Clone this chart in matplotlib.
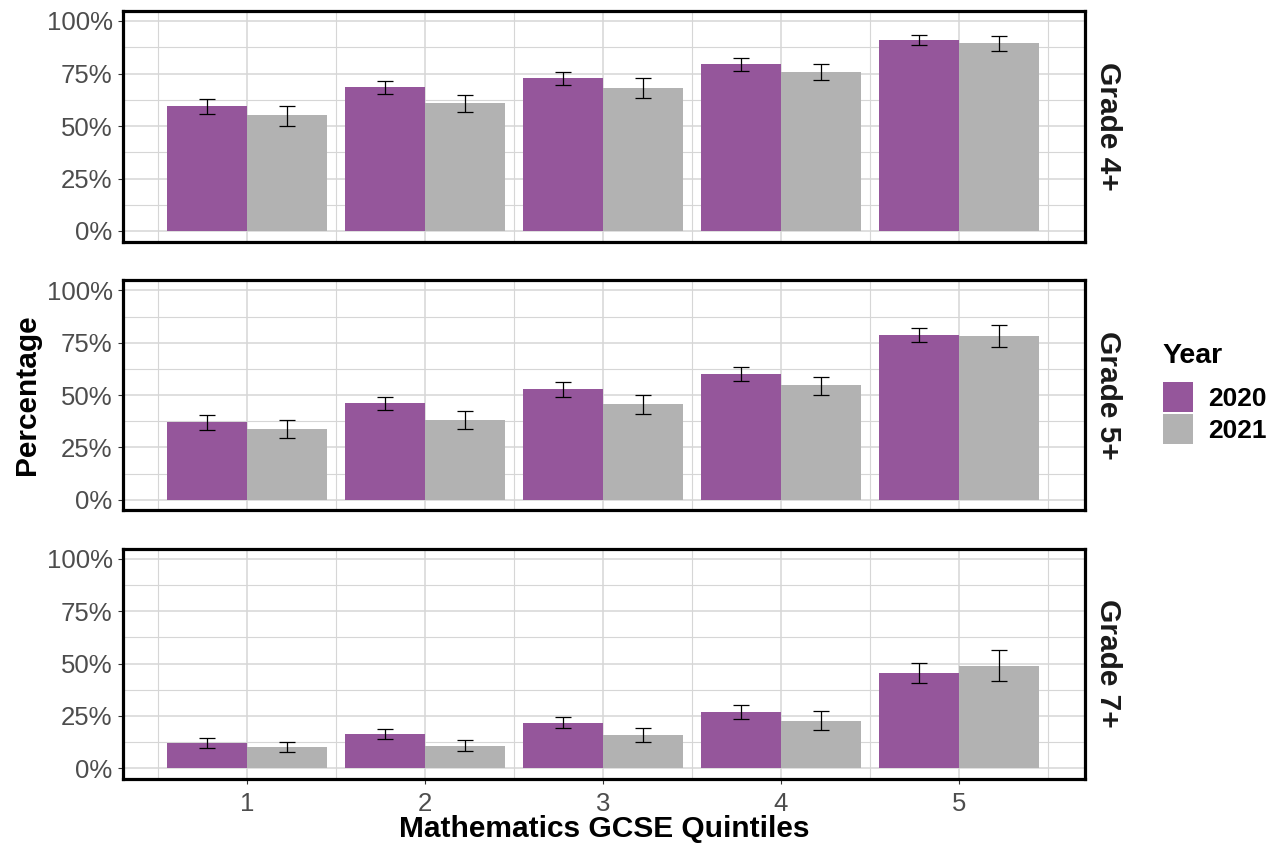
import numpy as np
import matplotlib.pyplot as plt
from matplotlib.patches import Patch

plt.rcParams['font.family'] = ['Liberation Sans', 'DejaVu Sans']

quintiles = [1, 2, 3, 4, 5]
grades = ['Grade 4+', 'Grade 5+', 'Grade 7+']
years = ['2020', '2021']
colours = {'2020': '#95569b', '2021': '#b2b2b2'}

# percentages (bar, lower CI, upper CI)
g4_2020 = [59.5, 68.6, 72.9, 79.5, 91.0]
g4_2020_lo = [55.9, 65.2, 69.5, 76.3, 88.7]
g4_2020_hi = [63.0, 71.4, 75.9, 82.2, 93.2]
g4_2021 = [55.2, 61.0, 68.1, 75.7, 89.5]
g4_2021_lo = [50.2, 56.8, 63.5, 72.0, 85.9]
g4_2021_hi = [59.7, 64.8, 72.7, 79.7, 92.7]

g5_2020 = [37.1, 46.2, 52.9, 60.1, 78.8]
g5_2020_lo = [33.5, 42.9, 48.9, 56.7, 75.3]
g5_2020_hi = [40.5, 49.2, 56.4, 63.4, 82.1]
g5_2021 = [33.8, 38.1, 45.6, 54.8, 78.3]
g5_2021_lo = [29.5, 33.8, 41.1, 50.0, 73.2]
g5_2021_hi = [37.9, 42.5, 49.9, 58.8, 83.4]

g7_2020 = [12.1, 16.4, 21.6, 26.9, 45.5]
g7_2020_lo = [9.7, 14.2, 19.1, 23.4, 40.6]
g7_2020_hi = [14.6, 18.9, 24.7, 30.1, 50.3]
g7_2021 = [10.2, 10.7, 15.9, 22.6, 48.9]
g7_2021_lo = [7.6, 8.3, 12.7, 18.4, 41.6]
g7_2021_hi = [12.7, 13.7, 19.1, 27.2, 56.4]

panels = {
    'Grade 4+': {'2020': (g4_2020, g4_2020_lo, g4_2020_hi), '2021': (g4_2021, g4_2021_lo, g4_2021_hi)},
    'Grade 5+': {'2020': (g5_2020, g5_2020_lo, g5_2020_hi), '2021': (g5_2021, g5_2021_lo, g5_2021_hi)},
    'Grade 7+': {'2020': (g7_2020, g7_2020_lo, g7_2020_hi), '2021': (g7_2021, g7_2021_lo, g7_2021_hi)},
}

W, H = 1281, 843
fig = plt.figure(figsize=(W / 100, H / 100), dpi=100)

# panel boxes in pixels: (top, bottom)
boxes = [(10.5, 241.5), (280, 510.2), (548.5, 778.8)]
left, right = 123, 1085
bar_w = 0.45
offsets = {'2020': -bar_w / 2, '2021': bar_w / 2}

x = np.array(quintiles)
for i, grade in enumerate(grades):
    top, bottom = boxes[i]
    ax = fig.add_axes([left / W, 1 - bottom / H, (right - left) / W, (bottom - top) / H])
    for yr in years:
        vals, lo, hi = [np.array(v) for v in panels[grade][yr]]
        ax.bar(x + offsets[yr], vals, width=bar_w, color=colours[yr], zorder=2)
        ax.errorbar(x + offsets[yr], vals, yerr=[vals - lo, hi - vals], fmt='none',
                    ecolor='black', elinewidth=0.9, capsize=5.8, capthick=0.9, zorder=3)

    ax.set_xlim(0.303, 5.71)
    ax.set_ylim(-5, 105)
    ax.set_yticks([0, 25, 50, 75, 100])
    ax.set_yticklabels(['0%', '25%', '50%', '75%', '100%'])
    ax.set_yticks([12.5, 37.5, 62.5, 87.5], minor=True)
    ax.set_xticks(quintiles)
    ax.set_xticks([0.5, 1.5, 2.5, 3.5, 4.5, 5.5], minor=True)
    ax.set_axisbelow(True)
    ax.grid(which='major', color='#d6d6d6', linewidth=1.1)
    ax.grid(which='minor', color='#d6d6d6', linewidth=0.8)
    ax.tick_params(which='minor', length=0)
    ax.tick_params(which='major', length=3.5, width=0.8, color='#333333',
                   labelsize=18.5, labelcolor='#4d4d4d')
    ax.tick_params(axis='y', pad=4)
    if i < 2:
        ax.tick_params(axis='x', labelbottom=False, length=0)
    else:
        ax.tick_params(axis='x', pad=6)
    for s in ax.spines.values():
        s.set_linewidth(2.3)
        s.set_color('black')

    ax.text(1.024, 0.5, grade, transform=ax.transAxes, rotation=270,
            ha='center', va='center', fontsize=21.5, fontweight='bold', color='#1a1a1a')

fig.text(27 / W, 1 - 395 / H, 'Percentage', rotation=90, ha='center', va='center',
         fontsize=21.5, fontweight='bold')
fig.text(604 / W, 1 - 829 / H, 'Mathematics GCSE Quintiles', ha='center', va='center',
         fontsize=21.5, fontweight='bold')

# legend: title placed by hand to get the ggplot gap under it
fig.text(1162 / W, 1 - 356 / H, 'Year', ha='left', va='center',
         fontsize=20.5, fontweight='bold')
handles = [Patch(facecolor=colours[yr], edgecolor='none', label=yr) for yr in years]
fig.legend(handles=handles, loc='upper left',
           bbox_to_anchor=(1163 / W, 1 - 382 / H), frameon=False,
           prop={'weight': 'bold', 'size': 19},
           handlelength=1.15, handleheight=1.4, labelspacing=0.05,
           handletextpad=0.55, borderaxespad=0, borderpad=0)

fig.savefig('out.png', dpi=100)
